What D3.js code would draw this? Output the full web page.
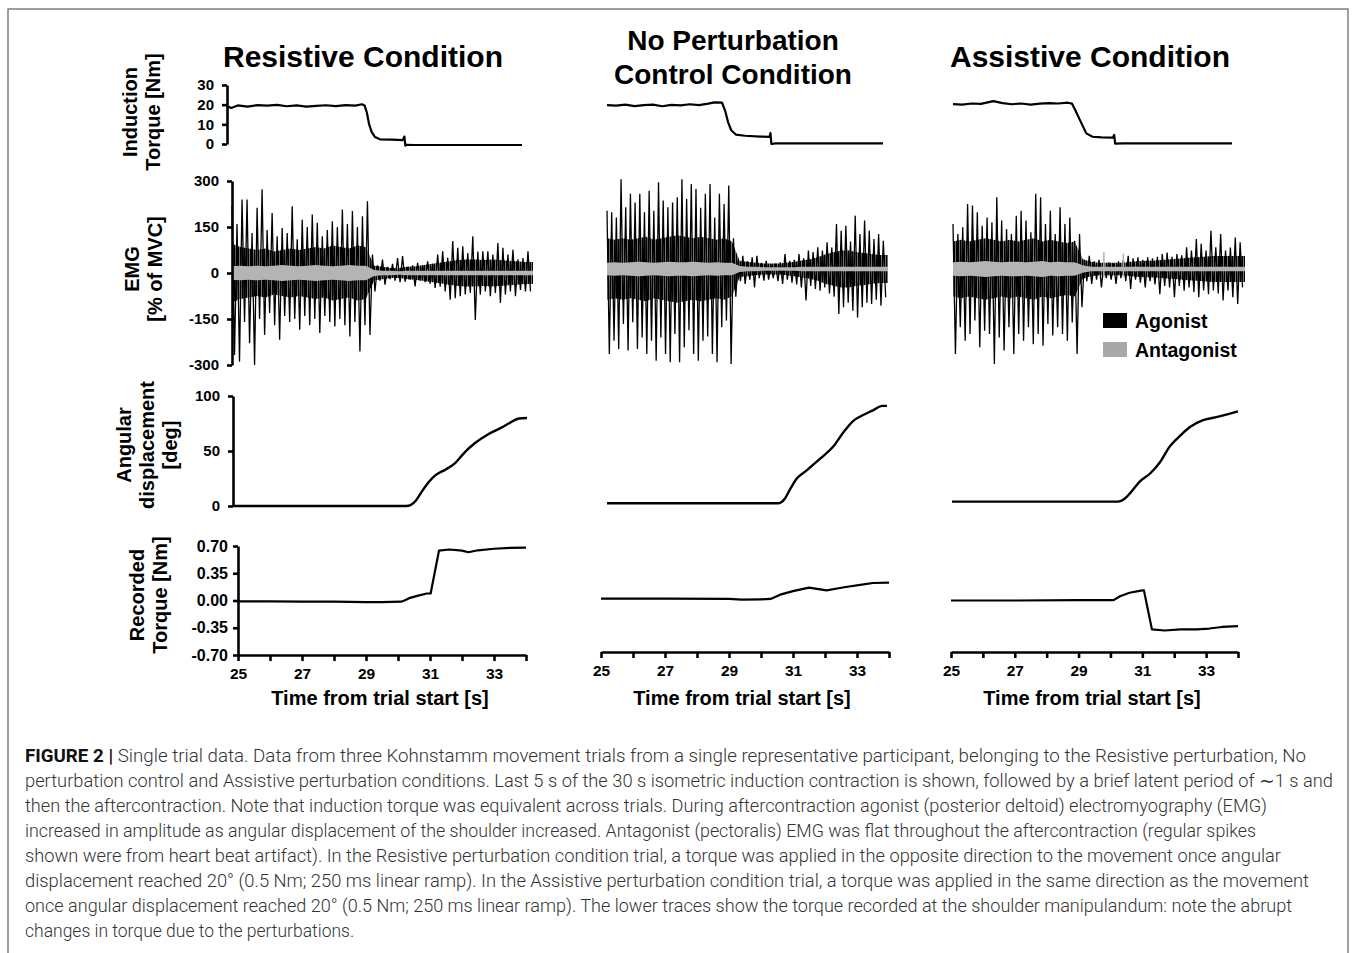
<!DOCTYPE html>
<html><head><meta charset="utf-8">
<script src="https://cdn.jsdelivr.net/npm/d3@7"></script>
<style>
body{margin:0;background:#fff;}
svg text{font-family:"Liberation Sans",Arial,Helvetica,sans-serif;}
.cap{font-family:Roboto,"Liberation Sans",sans-serif !important;}
</style></head><body>
<svg id="chart" width="1354" height="953"></svg>
<script>
// ---------------- DATA ----------------
const conditionTitles = [["Resistive Condition"], ["No Perturbation", "Control Condition"], ["Assistive Condition"]];
const xTickValues = [25, 26, 27, 28, 29, 30, 31, 32, 33, 34];
const inductTicks = [0, 10, 20, 30];
const emgTicks = [-300, -150, 0, 150, 300];
const angTicks = [0, 50, 100];
const torqueTicks = [-0.70, -0.35, 0.00, 0.35, 0.70];
const legendLabels = ["Agonist", "Antagonist"];

// Induction torque [t (s), Nm]
const resInduction = [[25,19.0],[25.1,18.3],[25.3,19.6],[25.6,19.0],[25.9,19.8],[26.2,19.5],[26.5,19.9],[26.8,19.2],[27.1,19.6],[27.4,19.0],[27.7,19.4],[28.0,19.7],[28.3,19.3],[28.6,19.8],[28.9,19.5],[29.1,20.2],[29.18,19.6],[29.25,16],[29.32,10],[29.4,6],[29.5,3.5],[29.65,2.4],[30.0,2.2],[30.35,2.0],[30.4,3.8],[30.43,-0.8],[30.46,-0.4],[30.7,-0.5],[31.5,-0.5],[32.5,-0.5],[33.5,-0.5],[34.0,-0.5]];
const nopInduction = [[25,19.8],[25.3,19.5],[25.6,20.0],[25.9,19.3],[26.2,19.8],[26.5,20.0],[26.8,19.2],[27.1,19.9],[27.4,19.6],[27.7,20.2],[28.0,19.8],[28.3,20.5],[28.5,21.2],[28.75,21.0],[28.85,17],[28.95,11],[29.05,7],[29.2,4.8],[29.5,4.2],[30.0,3.8],[30.3,3.6],[30.33,5.6],[30.36,0],[30.5,0.3],[31.5,0.3],[32.5,0.3],[34,0.3]];
const asInduction = [[25,20.3],[25.3,20.0],[25.6,20.6],[25.9,20.4],[26.3,21.8],[26.6,20.8],[26.9,20.2],[27.2,20.6],[27.5,20.0],[27.8,20.5],[28.1,20.8],[28.4,20.6],[28.7,21.0],[28.84,20.5],[28.95,17],[29.1,12],[29.3,5.4],[29.5,3.7],[29.8,3.4],[30.15,3.2],[30.2,4.6],[30.23,0.2],[30.5,0.3],[32,0.3],[34,0.3]];

// EMG agonist spike extremes, one per 0.15 s bin from 25 s [% MVC]
const resEmgUpper = [218,160,240,240,130,213,273,140,196,120,147,130,218,110,174,150,191,164,120,140,169,150,207,160,202,150,185,234,60,25,44,20,30,49,55,20,25,33,25,38,30,60,71,50,104,82,87,65,120,70,71,71,60,98,82,60,76,45,49,71];
const resEmgLower = [-267,-289,-160,-229,-300,-150,-202,-130,-170,-218,-140,-160,-150,-185,-140,-170,-150,-196,-140,-160,-174,-150,-170,-207,-160,-256,-170,-202,-60,-25,-38,-20,-25,-30,-28,-22,-44,-25,-30,-35,-49,-45,-60,-87,-82,-76,-70,-65,-153,-71,-60,-76,-65,-98,-70,-60,-76,-55,-60,-60];
const nopEmgUpper = [190,185,168,293,201,245,217,245,185,255,190,283,223,201,217,234,293,228,277,261,200,245,277,168,245,212,272,100,30,43,25,38,43,20,27,15,18,22,49,27,30,49,35,60,55,71,60,87,70,147,125,141,90,174,114,158,125,98,114,92];
const nopEmgLower = [-277,-234,-261,-179,-266,-174,-261,-223,-277,-234,-299,-223,-277,-304,-212,-304,-255,-200,-277,-299,-234,-220,-277,-304,-190,-168,-310,-90,-40,-49,-35,-60,-30,-38,-35,-30,-40,-49,-35,-45,-50,-60,-103,-55,-65,-71,-60,-80,-90,-147,-125,-110,-136,-158,-125,-110,-114,-100,-120,-92];
const asEmgUpper = [147,114,136,212,207,185,141,168,152,234,158,130,114,174,190,158,120,245,234,147,190,114,201,147,168,92,114,30,43,25,30,20,22,18,25,30,43,35,38,30,38,35,40,49,54,40,49,45,71,60,98,82,60,125,71,114,60,70,103,87];
const asEmgLower = [-277,-190,-234,-212,-168,-255,-201,-212,-310,-223,-266,-190,-277,-212,-234,-190,-245,-212,-250,-179,-217,-190,-212,-234,-174,-277,-125,-40,-49,-35,-60,-30,-35,-49,-30,-40,-65,-35,-45,-60,-40,-50,-82,-55,-60,-92,-55,-71,-60,-75,-92,-70,-82,-70,-80,-103,-70,-92,-114,-60];

// EMG dense-band half amplitude, one per 0.25 s from 25 s [% MVC]
const resEmgCore = [95,85,80,75,80,70,75,80,75,80,85,80,90,85,80,90,85,24,20,16,16,20,22,26,30,34,38,42,44,44,42,44,42,40,38,36,36];
const nopEmgCore = [100,95,100,95,100,105,95,100,105,110,105,100,105,100,95,100,90,26,24,20,18,18,18,20,24,28,32,38,48,55,60,60,55,52,48,46,46];
const asEmgCore  = [90,95,90,95,100,95,90,95,90,95,100,90,95,90,85,90,32,24,20,20,20,20,24,26,27,28,30,32,34,37,38,40,42,42,42,42,42];
// Antagonist EMG half amplitude, one per 0.25 s from 25 s
const resEmgAnt = [22,24,22,24,22,24,26,24,22,24,26,24,22,24,26,24,24,10,7,7,6,7,7,7,7,7,7,7,7,7,7,7,7,7,7,7,7];
const nopEmgAnt = [20,22,20,22,24,22,20,22,24,22,22,24,22,20,22,20,20,10,7,7,6,6,6,6,6,7,7,7,7,7,7,7,7,7,7,7,7];
const asEmgAnt  = [22,24,22,24,26,24,22,24,24,22,24,26,22,24,22,22,12,7,7,7,7,7,7,7,7,7,7,7,7,7,7,7,7,7,7,7,7];
// Antagonist heart-beat artifacts [t, peak]
const resAntSpikes = [];
const nopAntSpikes = [];
const asAntSpikes = [[29.65,55],[30.25,50]];

// Angular displacement [t, deg]
const resAngle = [[25,0],[30.3,0],[30.45,1],[30.6,5],[30.8,14],[31.0,22],[31.2,28],[31.5,33],[31.8,39],[32.1,49],[32.4,57],[32.8,65],[33.2,71],[33.5,76],[33.75,79.5],[34.0,80]];
const nopAngle = [[25,2.5],[30.5,2.5],[30.6,3.5],[30.7,6],[30.9,16],[31.1,25],[31.4,32],[31.85,43],[32.3,55],[32.6,67],[32.9,77],[33.25,83],[33.55,87],[33.85,91],[34,91]];
const asAngle = [[25,4],[30.15,4],[30.3,4.5],[30.45,7],[30.6,11.5],[30.9,22],[31.25,30],[31.55,40],[31.85,54],[32.2,64.5],[32.5,72],[32.9,78],[33.35,81],[33.75,84],[34,86]];

// Recorded torque [t, Nm]
const resTorque = [[25,-0.01],[26,-0.01],[27,-0.015],[28,-0.015],[29,-0.02],[29.5,-0.02],[30.1,-0.015],[30.2,0.0],[30.35,0.03],[30.6,0.06],[30.9,0.09],[31.02,0.09],[31.28,0.64],[31.6,0.655],[32.0,0.64],[32.2,0.62],[32.5,0.645],[33.0,0.665],[33.5,0.675],[34,0.68]];
const nopTorque = [[25,0.025],[27,0.025],[29,0.02],[29.4,0.01],[30.0,0.015],[30.3,0.02],[30.6,0.075],[31.0,0.12],[31.5,0.165],[32.05,0.13],[32.6,0.17],[33.1,0.2],[33.5,0.225],[34,0.23]];
const asTorque = [[25,0.0],[27,0.0],[29,0.005],[30.1,0.005],[30.3,0.055],[30.6,0.1],[31.0,0.13],[31.05,0.13],[31.3,-0.37],[31.7,-0.385],[32.2,-0.37],[32.7,-0.37],[33.1,-0.36],[33.5,-0.34],[34,-0.33]];

const captionBold = "FIGURE 2 |";
const captionLines = [
 " Single trial data. Data from three Kohnstamm movement trials from a single representative participant, belonging to the Resistive perturbation, No",
 "perturbation control and Assistive perturbation conditions. Last 5 s of the 30 s isometric induction contraction is shown, followed by a brief latent period of \u223C1 s and",
 "then the aftercontraction. Note that induction torque was equivalent across trials. During aftercontraction agonist (posterior deltoid) electromyography (EMG)",
 "increased in amplitude as angular displacement of the shoulder increased. Antagonist (pectoralis) EMG was flat throughout the aftercontraction (regular spikes",
 "shown were from heart beat artifact). In the Resistive perturbation condition trial, a torque was applied in the opposite direction to the movement once angular",
 "displacement reached 20\u00B0 (0.5 Nm; 250 ms linear ramp). In the Assistive perturbation condition trial, a torque was applied in the same direction as the movement",
 "once angular displacement reached 20\u00B0 (0.5 Nm; 250 ms linear ramp). The lower traces show the torque recorded at the shoulder manipulandum: note the abrupt",
 "changes in torque due to the perturbations."
];

// ---------------- LAYOUT ----------------
const svg = d3.select("#chart");
const BLACK = "#000", GRAY = "#b4b4b4";
const EMG_BIN = 0.15, CORE_STEP = 0.25;

const defs = svg.append("defs");
const pat = defs.append("pattern").attr("id", "emgTex").attr("patternUnits", "userSpaceOnUse")
  .attr("width", 2).attr("height", 7);
pat.append("rect").attr("x", 0).attr("y", 0).attr("width", 1.55).attr("height", 7).attr("fill", BLACK);

const columns = [
 {title: conditionTitles[0], induct: resInduction, up: resEmgUpper, lo: resEmgLower, core: resEmgCore, ant: resEmgAnt, antSp: resAntSpikes, ang: resAngle, torque: resTorque,
  px: {induct:[228,522], emg:[232,533], ang:[233,527], torque:[238,526]}, emgDy: 0, axisY: 655, titleX: 363, titleY: [67], titleSize: 30, xTitleX: 380, yAxes: true},
 {title: conditionTitles[1], induct: nopInduction, up: nopEmgUpper, lo: nopEmgLower, core: nopEmgCore, ant: nopEmgAnt, antSp: nopAntSpikes, ang: nopAngle, torque: nopTorque,
  px: {induct:[607,883], emg:[607,888], ang:[607,887], torque:[601,889]}, emgDy: -4, axisY: 652, titleX: 733, titleY: [50, 84], titleSize: 28, xTitleX: 742, yAxes: false},
 {title: conditionTitles[2], induct: asInduction, up: asEmgUpper, lo: asEmgLower, core: asEmgCore, ant: asEmgAnt, antSp: asAntSpikes, ang: asAngle, torque: asTorque,
  px: {induct:[953,1232], emg:[953,1245], ang:[952,1238], torque:[951,1238]}, emgDy: -4, axisY: 652, titleX: 1090, titleY: [67], titleSize: 30, xTitleX: 1092, yAxes: false}
];

// frame
svg.append("rect").attr("x", 8).attr("y", 9).attr("width", 1340).attr("height", 980)
  .attr("fill", "none").attr("stroke", "#6a6a6a").attr("stroke-width", 1.3);

function styleAxis(g, fs) {
  g.select(".domain").attr("stroke", BLACK).attr("stroke-width", 2.6);
  g.selectAll(".tick line").attr("stroke", BLACK).attr("stroke-width", 2.6);
  g.selectAll(".tick text").attr("fill", BLACK).attr("font-size", fs || 15).attr("font-weight", "bold")
    .style("font-family", '"Liberation Sans",Arial,sans-serif');
}

columns.forEach((c) => {
  const g = svg.append("g");
  c.title.forEach((t, i) => {
    g.append("text").attr("x", c.titleX).attr("y", c.titleY[i]).attr("text-anchor", "middle")
      .attr("font-size", c.titleSize).attr("font-weight", "bold").text(t);
  });

  // ---- Induction torque
  const xI = d3.scaleLinear().domain([25, 34]).range(c.px.induct);
  const yI = d3.scaleLinear().domain([0, 30]).range([144, 85]);
  g.append("path").datum(c.induct).attr("fill", "none").attr("stroke", BLACK).attr("stroke-width", 2.2)
    .attr("stroke-linejoin", "round")
    .attr("d", d3.line().x(d => xI(d[0])).y(d => yI(d[1])));

  // ---- EMG
  const xE = d3.scaleLinear().domain([25, 34]).range(c.px.emg);
  const yE = d3.scaleLinear().domain([-300, 300]).range([365 + c.emgDy, 181 + c.emgDy]);
  const coreData = c.core.map((v, i) => [25 + i * CORE_STEP, v]);
  g.append("path").datum(coreData).attr("fill", "url(#emgTex)")
    .attr("d", d3.area().x(d => xE(d[0])).y0(d => yE(-d[1])).y1(d => yE(d[1])));
  const zig = [];
  c.up.forEach((v, i) => {
    zig.push([25 + i * EMG_BIN, v]);
    zig.push([25 + i * EMG_BIN + EMG_BIN / 2, c.lo[i]]);
  });
  g.append("path").datum(zig).attr("fill", "none").attr("stroke", BLACK).attr("stroke-width", 1.3)
    .attr("d", d3.line().x(d => xE(d[0])).y(d => yE(d[1])));
  const antData = c.ant.map((v, i) => [25 + i * CORE_STEP, v]);
  g.append("path").datum(antData).attr("fill", GRAY)
    .attr("d", d3.area().x(d => xE(d[0])).y0(d => yE(-d[1])).y1(d => yE(d[1])));
  g.selectAll(null).data(c.antSp).enter().append("line")
    .attr("x1", d => xE(d[0])).attr("x2", d => xE(d[0]))
    .attr("y1", d => yE(d[1])).attr("y2", d => yE(-d[1] * 0.5))
    .attr("stroke", GRAY).attr("stroke-width", 1.6);

  // ---- Angular displacement
  const xA = d3.scaleLinear().domain([25, 34]).range(c.px.ang);
  const yA = d3.scaleLinear().domain([0, 100]).range([506, 396]);
  g.append("path").datum(c.ang).attr("fill", "none").attr("stroke", BLACK).attr("stroke-width", 2.4)
    .attr("d", d3.line().curve(d3.curveMonotoneX).x(d => xA(d[0])).y(d => yA(d[1])));

  // ---- Recorded torque
  const xT = d3.scaleLinear().domain([25, 34]).range(c.px.torque);
  const yT = d3.scaleLinear().domain([-0.7, 0.7]).range([655, 546]);
  g.append("path").datum(c.torque).attr("fill", "none").attr("stroke", BLACK).attr("stroke-width", 2.2)
    .attr("stroke-linejoin", "round")
    .attr("d", d3.line().x(d => xT(d[0])).y(d => yT(d[1])));

  const xAxis = g.append("g").attr("transform", `translate(0,${c.axisY})`)
    .call(d3.axisBottom(xT).tickValues(xTickValues).tickSize(6).tickSizeOuter(0).tickPadding(7)
      .tickFormat(d => (d % 2 === 1 ? String(d) : "")));
  styleAxis(xAxis, 15.5);
  g.append("text").attr("x", c.xTitleX).attr("y", 705).attr("text-anchor", "middle")
    .attr("font-size", 20).attr("font-weight", "bold").text("Time from trial start [s]");

  if (c.yAxes) {
    const ax1 = g.append("g").attr("transform", "translate(227,0)")
      .call(d3.axisLeft(yI).tickValues(inductTicks).tickSize(5).tickSizeOuter(0).tickPadding(8).tickFormat(d => String(d)));
    styleAxis(ax1);
    const ax2 = g.append("g").attr("transform", "translate(232,0)")
      .call(d3.axisLeft(yE).tickValues(emgTicks).tickSize(5).tickSizeOuter(0).tickPadding(8).tickFormat(d => String(d)));
    styleAxis(ax2);
    const ax3 = g.append("g").attr("transform", "translate(233,0)")
      .call(d3.axisLeft(yA).tickValues(angTicks).tickSize(5).tickSizeOuter(0).tickPadding(8).tickFormat(d => String(d)));
    styleAxis(ax3);
    const ax4 = g.append("g").attr("transform", "translate(238,0)")
      .call(d3.axisLeft(yT).tickValues(torqueTicks).tickSize(5).tickSizeOuter(0).tickPadding(5).tickFormat(d => d.toFixed(2)));
    styleAxis(ax4, 16);
  }
});

// y-axis titles
const yTitles = [
  {lines: ["Induction", "Torque [Nm]"], xs: [130, 153], y: 112},
  {lines: ["EMG", "[% of MVC]"], xs: [132, 155], y: 269},
  {lines: ["Angular", "displacement", "[deg]"], xs: [124, 147, 170], y: 445},
  {lines: ["Recorded", "Torque [Nm]"], xs: [137, 160], y: 595}
];
yTitles.forEach(t => {
  t.lines.forEach((l, i) => {
    svg.append("text").attr("transform", `translate(${t.xs[i]},${t.y}) rotate(-90)`)
      .attr("text-anchor", "middle").attr("dy", "0.36em")
      .attr("font-size", 20).attr("font-weight", "bold").text(l);
  });
});

// legend
const legendColors = [BLACK, "#a8a8a8"];
legendLabels.forEach((l, i) => {
  svg.append("rect").attr("x", 1103).attr("y", 313 + i * 29).attr("width", 24).attr("height", 15).attr("fill", legendColors[i]);
  svg.append("text").attr("x", 1135).attr("y", 328 + i * 29).attr("font-size", 19.5).attr("font-weight", "bold").text(l);
});

// caption
const capEnds = [1306, 1333, 1267, 1256, 1281, 1309, 1292, null];
captionLines.forEach((l, i) => {
  const t = svg.append("text").attr("class", "cap").attr("x", 25).attr("y", 762 + i * 25)
    .attr("font-size", 17.5).attr("font-weight", 300).attr("fill", "#333");
  if (i === 0) {
    t.append("tspan").attr("font-weight", "bold").attr("fill", "#111").text(captionBold);
  }
  t.append("tspan").text(l);
  if (capEnds[i]) t.attr("textLength", capEnds[i] - 25).attr("lengthAdjust", "spacingAndGlyphs");
});
</script>
</body></html>
